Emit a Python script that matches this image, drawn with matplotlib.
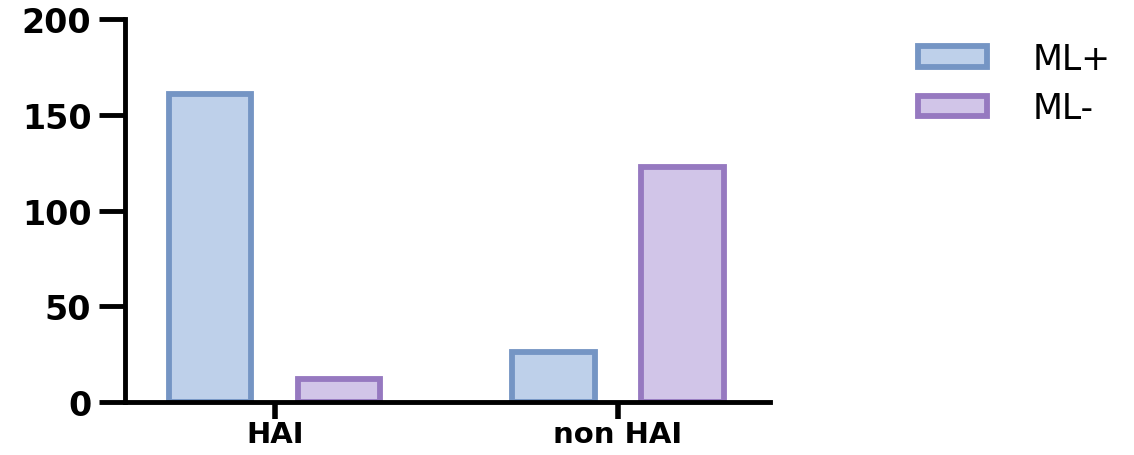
import numpy as np
import matplotlib
from matplotlib import pyplot as plt

matplotlib.rcParams['font.family'] = ['DejaVu Sans']

# 分组柱状图数据
groups = ['HAI', 'non HAI']
series = ['ML+', 'ML-']
ml_pos = [161, 26]
ml_neg = [12, 123]

face_colors = ['#bed0ea', '#d1c5e8']
edge_colors = ['#7595c4', '#9679c0']

fig = plt.figure(figsize=(11.34, 4.56), dpi=100)
ax = fig.add_axes([0.110, 0.116, 0.569, 0.840])

x = np.arange(len(groups))
w = 0.24
off = 0.188
ax.bar(x - off, ml_pos, w, color=face_colors[0], edgecolor=edge_colors[0],
       linewidth=4.2, label=series[0])
ax.bar(x + off, ml_neg, w, color=face_colors[1], edgecolor=edge_colors[1],
       linewidth=4.2, label=series[1])

ax.set_xlim(-0.437, 1.443)
ax.set_ylim(0, 200)
ax.set_yticks([0, 50, 100, 150, 200])
ax.set_xticks(x)
ax.set_xticklabels(groups)

for s in ['top', 'right']:
    ax.spines[s].set_visible(False)
for s in ['left', 'bottom']:
    ax.spines[s].set_linewidth(3.5)
    ax.spines[s].set_capstyle('projecting')

ax.tick_params(axis='y', length=19, width=3.5, pad=5, labelsize=24)
ax.tick_params(axis='x', length=12, width=4, pad=1, labelsize=21)
for t in ax.get_yticklabels() + ax.get_xticklabels():
    t.set_fontweight('heavy')

# 图例放在右上角
leg = fig.legend(loc='upper left', bbox_to_anchor=(0.782, 0.975), frameon=False,
                 fontsize=25, handlelength=2.0, handleheight=0.55,
                 handletextpad=1.3, labelspacing=0.45)

plt.savefig('out.png', dpi=100)
